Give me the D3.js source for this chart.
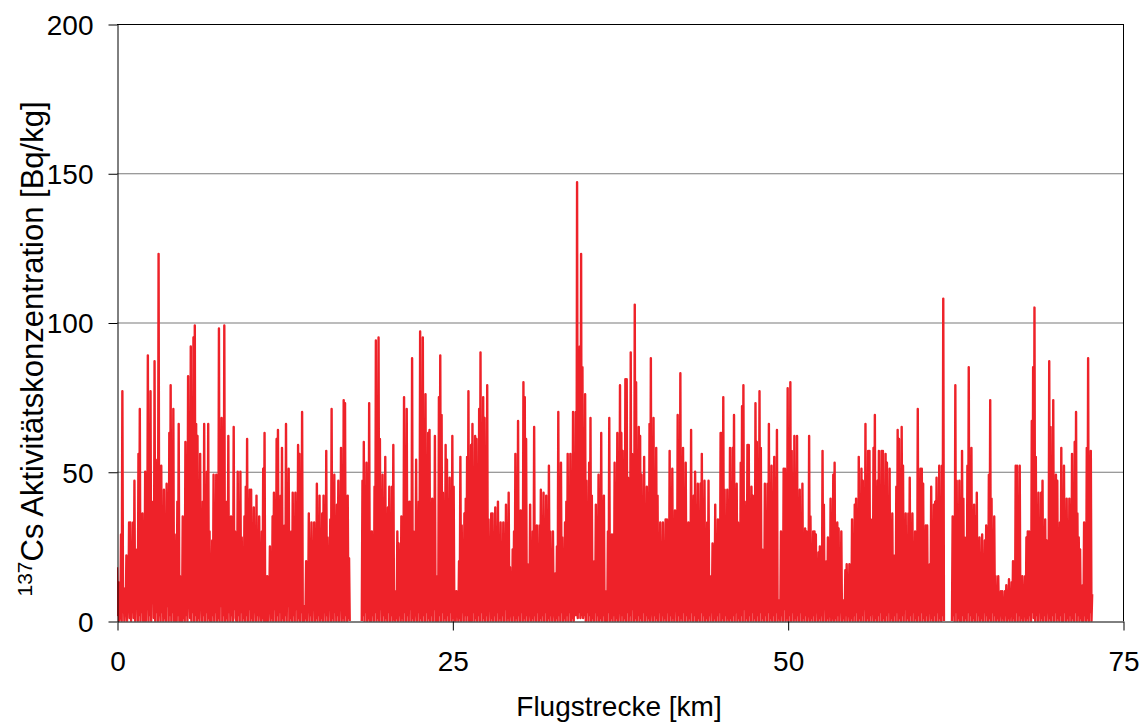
<!DOCTYPE html>
<html><head><meta charset="utf-8">
<script src="https://cdn.jsdelivr.net/npm/d3@7"></script>
<style>
body{margin:0;background:#fff}
text{font-family:"Liberation Sans",Arial,sans-serif;fill:#000}
</style>
</head><body><svg id="chart" width="1146" height="724"></svg>
<script>
// sampling step along the flight path (km), 20 readings per km
const stepKm = 0.05;
// 137Cs activity concentration [Bq/kg], one row per km (null = no data)
const activity = [
 18,2,13,0,2,1,29,0,77,3,11,0,5,2,22,0,8,4,33,1,
 33,0,10,3,33,1,47,0,15,5,24,0,56,2,71,0,20,3,36,0,
 0,1,50,0,12,4,89,0,30,2,77,0,25,6,40,1,87,0,35,3,
 54,0,123,2,6,0,52,3,20,0,44,1,10,0,46,5,30,0,63,2,
 79,0,25,3,71,0,29,1,0,0,40,2,66,0,15,4,0,0,35,1,
 20,0,60,2,30,0,82,5,10,1,92,0,40,3,95,0,99,2,66,0,
 62,1,20,0,56,4,10,0,40,2,66,0,25,3,50,0,66,1,30,0,
 5,0,27,2,49,0,15,3,49,0,32,1,98,0,40,5,68,0,20,2,
 99,0,5,1,40,0,62,3,20,0,35,2,10,0,65,4,30,1,0,0,
 50,2,30,0,50,3,28,0,15,1,35,0,45,2,61,0,20,4,44,0,
 44,1,20,0,38,3,10,0,42,2,25,0,35,5,5,0,30,1,51,0,
 63,0,0,2,15,0,8,3,25,0,18,1,35,0,43,4,20,0,61,2,
 64,0,30,3,42,0,58,1,15,0,32,2,66,0,20,5,51,0,10,1,
 30,0,43,2,15,0,43,4,25,0,59,1,56,0,20,3,70,0,1,0,
 5,1,20,0,10,3,36,0,18,2,33,0,12,4,33,0,25,1,46,0,
 15,2,42,0,20,1,36,0,42,3,10,0,57,2,28,0,12,5,34,0,
 71,1,20,0,49,3,15,0,39,2,47,0,10,4,58,0,30,1,74,0,
 73,2,25,0,42,1,21,0,null,null,null,null,null,null,null,null,null,null,null,null,
 null,null,null,null,null,0,47,2,60,0,24,3,53,0,5,1,73,0,3,0,
 30,2,10,0,45,3,94,0,20,1,95,0,61,4,15,0,49,2,35,0,
 55,1,20,0,38,3,45,0,15,2,45,0,59,4,1,0,10,1,30,0,
 26,2,8,0,35,1,10,0,75,3,30,0,71,2,15,0,40,4,20,0,
 88,1,30,0,5,2,54,0,20,3,40,0,97,1,10,0,95,2,60,0,
 76,3,26,0,63,1,64,0,20,2,41,0,30,4,62,0,0,1,15,0,
 75,2,89,0,69,3,43,0,28,1,59,0,54,2,20,0,48,3,30,0,
 62,1,45,0,0,0,10,2,5,0,20,1,55,0,32,3,15,0,36,2,
 41,0,55,2,77,0,0,1,59,0,66,3,20,0,62,1,61,0,30,2,
 71,0,90,3,30,0,75,1,68,0,15,2,79,0,34,4,10,0,36,1,
 36,0,12,2,38,0,20,3,40,0,8,1,33,0,15,2,33,0,25,4,
 39,0,15,1,43,0,18,3,5,0,24,2,30,0,56,1,20,0,67,2,
 10,0,37,3,25,0,80,1,75,0,61,2,19,0,5,4,39,0,20,1,
 30,0,65,2,10,0,32,3,20,0,32,1,44,0,15,2,43,0,25,3,
 42,0,15,1,52,0,30,2,10,0,30,4,5,0,16,1,25,0,70,2,
 20,0,53,3,28,0,10,1,33,0,40,2,56,0,20,3,56,0,35,1,
 70,0,20,2,70,2,147,1,47,3,92,1,123,2,85,1,40,2,76,0,
 47,3,20,0,53,2,68,0,42,1,15,0,20,3,39,0,10,2,49,0,
 32,1,63,0,20,2,42,0,10,0,0,0,30,3,68,0,15,1,29,0,
 29,2,53,0,26,1,63,0,7,3,79,0,63,2,57,0,20,1,81,0,
 81,3,48,0,15,2,90,0,56,4,20,0,106,1,80,0,30,2,65,0,
 62,1,49,0,30,3,55,0,12,2,45,0,25,1,66,0,88,3,5,0,
 68,2,20,0,58,1,42,0,15,3,33,0,10,2,33,0,20,1,34,0,
 34,3,15,0,57,2,20,0,51,1,18,0,37,4,10,0,69,2,40,0,
 83,1,15,0,58,3,30,0,53,2,24,0,33,1,10,0,64,3,20,0,
 42,2,50,0,1,0,46,1,20,0,46,3,56,0,15,2,47,0,25,1,
 33,0,47,2,10,0,15,3,26,0,5,1,39,0,20,2,34,0,30,3,
 63,0,63,1,75,0,44,2,20,0,44,3,2,0,58,1,30,0,58,2,
 69,0,20,3,46,0,33,1,10,0,53,2,72,0,79,4,40,0,25,1,
 59,0,59,2,20,0,45,3,42,0,10,1,73,0,60,2,15,0,77,3,
 58,0,24,1,10,0,46,2,20,0,46,3,66,0,15,1,52,0,30,2,
 55,0,20,3,64,0,7,1,7,0,30,2,10,0,51,4,51,0,25,1,
 78,0,39,2,80,0,57,3,19,0,62,1,20,0,62,2,10,0,44,3,
 19,0,46,1,10,0,31,2,30,0,4,3,62,0,35,1,15,0,30,2,
 30,0,29,3,10,0,23,1,25,0,8,2,57,0,39,4,14,0,20,1,
 28,0,5,2,41,0,2,3,49,0,53,1,15,0,33,2,31,0,10,3,
 30,0,7,1,7,0,17,2,19,0,5,3,19,0,10,1,34,0,20,2,
 39,0,41,3,27,0,55,1,20,0,51,2,47,0,15,4,66,0,30,1,
 57,0,57,2,34,0,6,3,58,0,69,1,20,0,47,2,57,0,30,3,
 57,0,57,1,25,0,56,2,53,0,20,3,51,0,15,1,36,0,22,2,
 22,0,45,3,64,0,61,1,19,0,65,2,52,0,20,4,36,0,15,1,
 36,0,48,2,28,0,36,3,20,0,30,1,10,0,71,2,25,0,51,3,
 51,0,46,1,20,0,32,2,32,0,10,3,19,0,45,1,15,0,39,2,
 40,0,48,3,18,0,52,1,30,0,52,2,108,0,null,null,null,null,null,null,
 null,null,null,null,null,0,35,2,10,0,79,3,47,0,20,1,47,0,2,0,
 57,2,41,0,28,1,8,0,52,3,85,0,30,2,58,0,20,1,39,0,
 35,3,43,0,10,2,28,0,6,1,29,0,15,3,27,0,32,2,20,0,
 49,1,74,0,41,3,20,0,35,2,15,0,5,1,15,0,8,2,10,0,
 10,1,3,0,10,2,12,0,4,1,14,0,5,2,13,0,20,1,8,0,
 52,3,52,0,20,2,52,0,13,1,15,0,5,2,15,0,28,1,30,0,
 30,2,14,0,67,3,85,1,105,0,55,2,20,0,43,3,10,0,43,1,
 47,0,20,2,34,0,27,3,9,0,87,1,65,0,30,2,74,0,20,3,
 49,0,47,1,7,0,33,2,58,0,1,0,52,3,20,0,41,1,15,0,
 41,2,39,0,56,1,20,0,60,3,70,0,36,2,28,0,24,1,10,0,
 12,0,33,2,10,0,58,1,88,0,20,3,57,0,9
];
const xTicks = [0, 25, 50, 75];
const yTicks = [0, 50, 100, 150, 200];
const xTitle = "Flugstrecke [km]";
const yTitleSup = "137";
const yTitleMain = "Cs Aktivitätskonzentration [Bq/kg]";

const svg = d3.select("#chart");
const L = 117, R = 1123, T = 24, B = 621;
const x = d3.scaleLinear().domain([0, 75]).range([L, R]);
const y = d3.scaleLinear().domain([0, 200]).range([B, T]);

svg.append("defs").append("clipPath").attr("id", "plotClip")
  .append("rect").attr("x", L).attr("y", T).attr("width", R - L).attr("height", B - T + 0.5);

// gridlines
svg.append("g").selectAll("line")
  .data(yTicks.filter(d => d > 0 && d < 200)).join("line")
  .attr("x1", L).attr("x2", R)
  .attr("y1", d => y(d) + 0.5).attr("y2", d => y(d) + 0.5)
  .attr("stroke", "#7a7a7a").attr("stroke-width", 1.2);

// data line
const line = d3.line().defined(d => d !== null).x((d, i) => x(i * stepKm)).y(d => y(d));
svg.append("path").datum(activity)
  .attr("clip-path", "url(#plotClip)")
  .attr("d", line).attr("fill", "none")
  .attr("stroke", "#ee2229").attr("stroke-width", 2.4)
  .attr("stroke-linejoin", "round");

// frame top and right
svg.append("line").attr("x1", L).attr("x2", R).attr("y1", T + 0.5).attr("y2", T + 0.5)
  .attr("stroke", "#000").attr("stroke-width", 1);
svg.append("line").attr("x1", R + 0.5).attr("x2", R + 0.5).attr("y1", T).attr("y2", B)
  .attr("stroke", "#000").attr("stroke-width", 1);

// axes
const yAxis = d3.axisLeft(y).tickValues(yTicks).tickSize(9).tickSizeOuter(0).tickPadding(15).tickFormat(d3.format("d"));
const gy = svg.append("g").attr("transform", `translate(${L + 0.5},0.5)`).call(yAxis);
gy.selectAll("text").style("font-size", "28px").attr("dy", "0.35em");
gy.selectAll("line,path").attr("stroke", "#000");

const xAxis = d3.axisBottom(x).tickValues(xTicks).tickSize(9).tickSizeOuter(0).tickPadding(21).tickFormat(d3.format("d"));
const gx = svg.append("g").attr("transform", `translate(0.5,${B + 0.5})`).call(xAxis);
gx.selectAll("text").style("font-size", "28px");
gx.selectAll("line,path").attr("stroke", "#000");

// titles
svg.append("text").attr("x", 619).attr("y", 716).attr("text-anchor", "middle")
  .style("font-size", "28px").text(xTitle);

const yt = svg.append("text").attr("transform", "translate(43,349) rotate(-90)")
  .attr("text-anchor", "middle").style("font-size", "31px");
yt.append("tspan").attr("dy", "-11").style("font-size", "21px").text(yTitleSup);
yt.append("tspan").attr("dy", "11").text(yTitleMain);
</script>
</body></html>
